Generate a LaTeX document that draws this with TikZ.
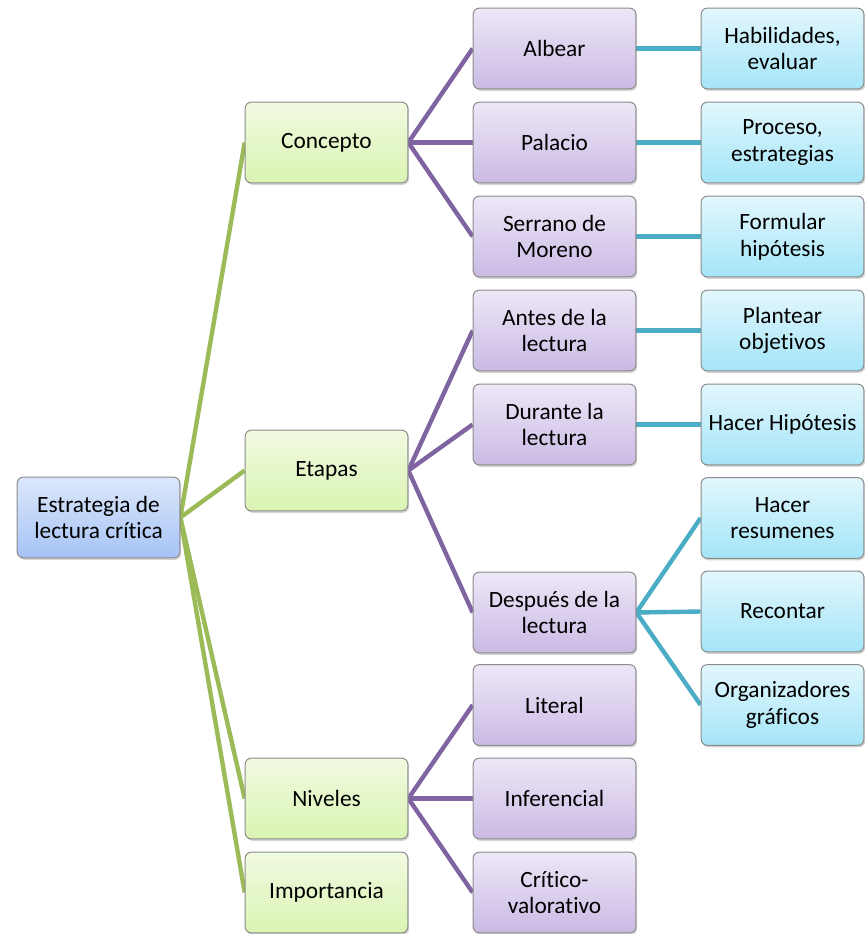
\documentclass[tikz,border=0pt]{standalone}
\usepackage{fontspec}
\setmainfont{Carlito}[Ligatures={NoCommon}]
\usetikzlibrary{shadows,backgrounds}

\definecolor{lineGreen}{RGB}{155,187,89}
\definecolor{linePurple}{RGB}{128,100,162}
\definecolor{lineCyan}{RGB}{75,172,198}

\tikzset{every picture/.style={line width=0.75pt}}
\tikzset{
  mapbox/.style={draw=black!45, rounded corners=4.5pt, minimum width=122pt, minimum height=60.5pt,
    inner sep=1pt, align=center, font=\fontsize{17.5}{20}\selectfont,
    drop shadow={opacity=0.35, shadow xshift=1pt, shadow yshift=-1.5pt}},
  rootbox/.style={mapbox, top color={rgb,255:red,220;green,231;blue,250}, bottom color={rgb,255:red,166;green,195;blue,246}},
  greenbox/.style={mapbox, top color={rgb,255:red,241;green,250;blue,225}, bottom color={rgb,255:red,218;green,244;blue,178}},
  purplebox/.style={mapbox, top color={rgb,255:red,238;green,231;blue,247}, bottom color={rgb,255:red,202;green,186;blue,228}},
  cyanbox/.style={mapbox, top color={rgb,255:red,226;green,247;blue,253}, bottom color={rgb,255:red,164;green,229;blue,248}},
  greenlink/.style={draw=lineGreen, line width=3.3pt},
  purplelink/.style={draw=linePurple, line width=3.3pt},
  cyanlink/.style={draw=lineCyan, line width=3.3pt}
}

\begin{document}
\begin{tikzpicture}[x=0.75pt,y=0.75pt,yscale=-1,xscale=1]
    \useasboundingbox (0,0) rectangle (864,934);

    % Root
    \node [rootbox] (root) at (98.5,517.5) {Estrategia de\\lectura crítica};

    % First level
    \node [greenbox] (concepto) at (326.5,142.5) {Concepto};
    \node [greenbox] (etapas) at (326.5,470.5) {Etapas};
    \node [greenbox] (niveles) at (326.5,798.5) {Niveles};
    \node [greenbox] (importancia) at (326.5,892.5) {Importancia};

    % Second level
    \node [purplebox] (albear) at (554.5,48.5) {Albear};
    \node [purplebox] (palacio) at (554.5,142.5) {Palacio};
    \node [purplebox] (serrano) at (554.5,236.5) {Serrano de\\Moreno};
    \node [purplebox] (antes) at (554.5,330.5) {Antes de la\\lectura};
    \node [purplebox] (durante) at (554.5,424.5) {Durante la\\lectura};
    \node [purplebox] (despues) at (554.5,612.5) {Después de la\\lectura};
    \node [purplebox] (literal) at (554.5,705) {Literal};
    \node [purplebox] (inferencial) at (554.5,798.5) {Inferencial};
    \node [purplebox] (critico) at (554.5,892.5) {Crítico-\\valorativo};

    % Third level
    \node [cyanbox] (habilidades) at (782.5,48.5) {Habilidades,\\evaluar};
    \node [cyanbox] (proceso) at (782.5,142.5) {Proceso,\\estrategias};
    \node [cyanbox] (formular) at (782.5,236.5) {Formular\\hipótesis};
    \node [cyanbox] (plantear) at (782.5,330.5) {Plantear\\objetivos};
    \node [cyanbox] (hipotesis) at (782.5,424.5) {Hacer Hipótesis};
    \node [cyanbox] (resumenes) at (782.5,518) {Hacer\\resumenes};
    \node [cyanbox] (recontar) at (782.5,611.5) {Recontar};
    \node [cyanbox] (organizadores) at (782.5,705) {Organizadores\\gráficos};

    % Connectors
    \begin{scope}[on background layer]
    \path [greenlink] (root.east) -- (concepto.west);
    \path [greenlink] (root.east) -- (etapas.west);
    \path [greenlink] (root.east) -- (niveles.west);
    \path [greenlink] (root.east) -- (importancia.west);
    \foreach \kid in {albear,palacio,serrano}
        \path [purplelink] (concepto.east) -- (\kid.west);
    \foreach \kid in {antes,durante,despues}
        \path [purplelink] (etapas.east) -- (\kid.west);
    \foreach \kid in {literal,inferencial,critico}
        \path [purplelink] (niveles.east) -- (\kid.west);
    \path [cyanlink] (albear.east) -- (habilidades.west);
    \path [cyanlink] (palacio.east) -- (proceso.west);
    \path [cyanlink] (serrano.east) -- (formular.west);
    \path [cyanlink] (antes.east) -- (plantear.west);
    \path [cyanlink] (durante.east) -- (hipotesis.west);
    \foreach \kid in {resumenes,recontar,organizadores}
        \path [cyanlink] (despues.east) -- (\kid.west);
    \end{scope}

\end{tikzpicture}
\end{document}
